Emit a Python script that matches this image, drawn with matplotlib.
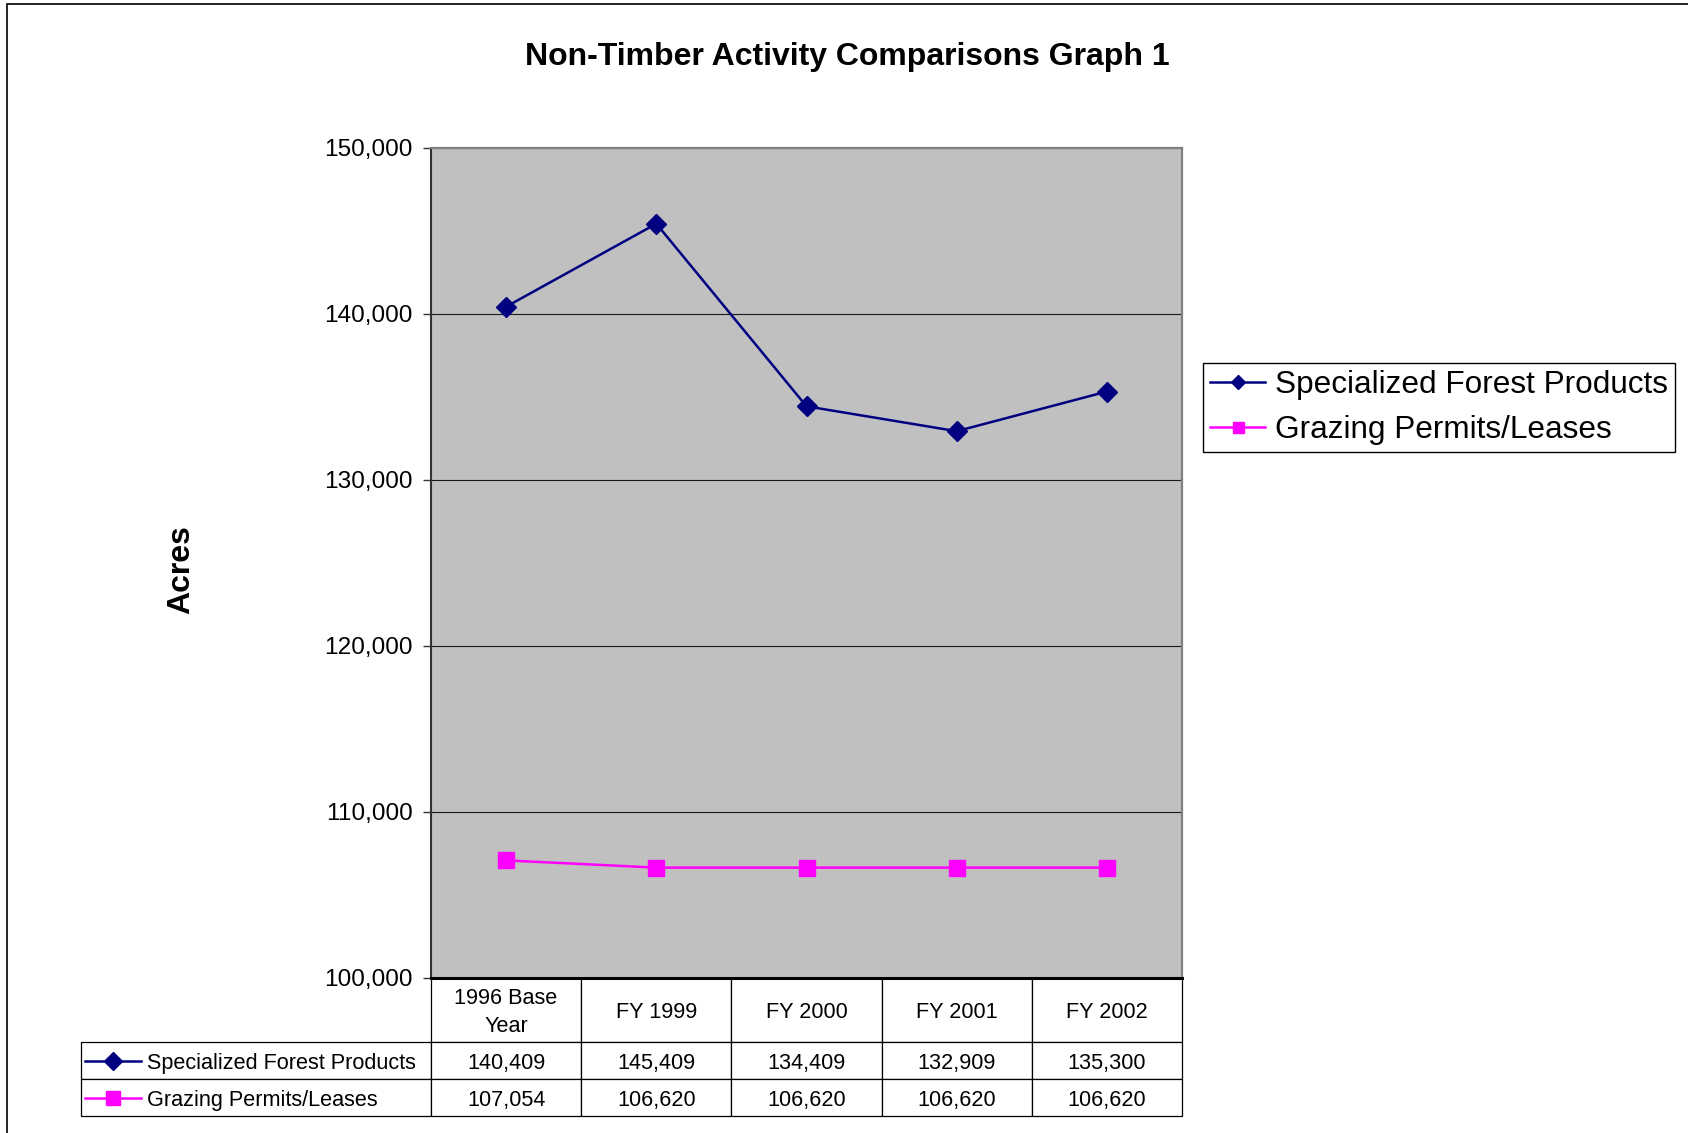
import matplotlib.pyplot as plt
from matplotlib.patches import Rectangle
from matplotlib.table import Table
from matplotlib.ticker import FuncFormatter
from matplotlib.transforms import Affine2D

plt.rcParams['font.family'] = ['Liberation Sans', 'DejaVu Sans']

categories = ["1996 Base\nYear", "FY 1999", "FY 2000", "FY 2001", "FY 2002"]
series_names = ["Specialized Forest Products", "Grazing Permits/Leases"]
forest_products = [140409, 145409, 134409, 132909, 135300]
grazing = [107054, 106620, 106620, 106620, 106620]
colors = ["#000080", "#FF00FF"]
markers = ["D", "s"]
marker_sizes = [10, 11]

W, H = 1688, 1133
fig = plt.figure(figsize=(W / 100, H / 100), dpi=100)

# outer chart frame (only left and top edges visible in the original)
fig.patches.append(Rectangle((6.5 / W, -0.1), 2, 1 - 4.3 / H + 0.1, transform=fig.transFigure,
                             fill=False, edgecolor="black", linewidth=1.2))

left, right, top, bottom = 431, 1182, 147.5, 977.5
ax = fig.add_axes([left / W, 1 - bottom / H, (right - left) / W, (bottom - top) / H])
ax.set_facecolor("#C0C0C0")

x = range(len(categories))
series = [forest_products, grazing]
for vals, name, c, m, ms in zip(series, series_names, colors, markers, marker_sizes):
    ax.plot(x, vals, color=c, marker=m, markersize=ms, linewidth=1.8, label=name,
            markerfacecolor=c, markeredgecolor=c, zorder=3)

ax.set_xlim(-0.5, len(categories) - 0.5)
ax.set_ylim(100000, 150000)
ax.set_yticks(range(100000, 150001, 10000))
ax.yaxis.set_major_formatter(FuncFormatter(lambda v, p: f"{int(v):,}"))
ax.set_xticks([])
ax.tick_params(axis="y", labelsize=17.6, length=6, width=1, pad=7, color="#333333")
ax.grid(axis="y", color="#1a1a1a", linewidth=0.8)
ax.set_axisbelow(True)
for s in ["top", "right"]:
    ax.spines[s].set_color("#808080")
    ax.spines[s].set_linewidth(1.6)
ax.spines["left"].set_color("#333333")
ax.spines["left"].set_linewidth(1.5)
ax.spines["bottom"].set_color("black")
ax.spines["bottom"].set_linewidth(2.2)

fig.text(0.502, 1 - 57 / H, "Non-Timber Activity Comparisons Graph 1", ha="center", va="center",
         fontsize=23, fontweight="bold")
fig.text(181 / W, 1 - 570 / H, "Acres", ha="center", va="center", rotation=90,
         fontsize=23, fontweight="bold")

# data table under the plot (sizes in axes units)
ax_w, ax_h = right - left, bottom - top
tab_left = 80.7
label_w = (left - tab_left) / ax_w
col_w = 1 / len(categories)
head_h, row_h = 64.5 / ax_h, 37.0 / ax_h
tab_h = head_h + row_h * len(series)
tbl = Table(ax, bbox=[-label_w, -tab_h, 1 + label_w, tab_h])
tbl.auto_set_font_size(False)
for j, cat in enumerate(categories):
    hc = tbl.add_cell(0, j + 1, col_w, head_h, text=cat, loc="center",
                      edgecolor="black", facecolor="white")
    hc.get_text().set_linespacing(1.45)
for i, (name, vals) in enumerate(zip(series_names, series)):
    lab = tbl.add_cell(i + 1, 0, label_w, row_h, text=name, loc="left",
                       edgecolor="black", facecolor="white")
    lab.PAD = 0.188
    for j, v in enumerate(vals):
        tbl.add_cell(i + 1, j + 1, col_w, row_h, text=f"{v:,}", loc="center",
                     edgecolor="black", facecolor="white")
tbl.set_fontsize(15.6)
for cell in tbl.get_celld().values():
    cell.set_linewidth(0.9)
    # nudge cell text down a few pixels to sit like the original
    cell.get_text().set_transform(Affine2D().translate(0, -3))
ax.add_table(tbl)

# line/marker keys in the table row labels
for i, (c, m, ms) in enumerate(zip(colors, markers, marker_sizes)):
    yk = -(head_h + row_h * (i + 0.5))
    x0 = (85 - left) / ax_w
    x1 = (141 - left) / ax_w
    ax.plot([x0, x1], [yk, yk], color=c, linewidth=1.8, transform=ax.transAxes, clip_on=False)
    ax.plot([(x0 + x1) / 2], [yk], color=c, marker=m, markersize=ms * 0.9, transform=ax.transAxes,
            clip_on=False)

leg = fig.legend(loc="upper left", bbox_to_anchor=(1203 / W, 1 - 363 / H), borderaxespad=0,
                 fontsize=22.7, frameon=True, fancybox=False, edgecolor="black", framealpha=1,
                 handlelength=1.75, handletextpad=0.3, borderpad=0.22, labelspacing=0.48,
                 markerscale=0.72)
leg.get_frame().set_linewidth(1.0)

fig.savefig("out.png", dpi=100, facecolor="white")
